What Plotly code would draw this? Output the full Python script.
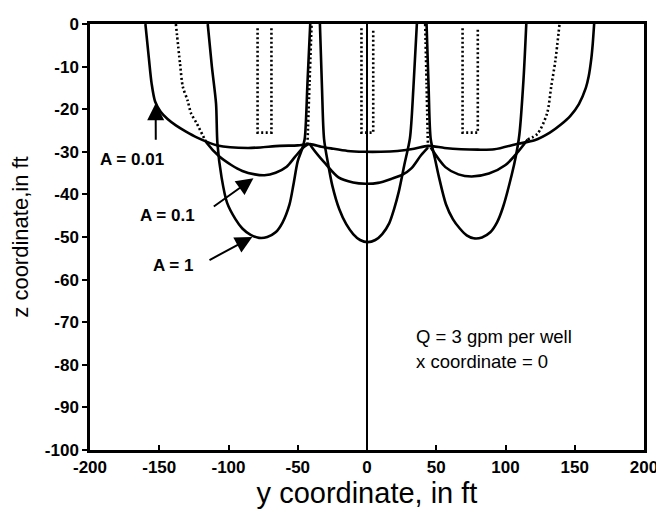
import plotly.graph_objects as go

# ---------------- data ----------------
# A = 0.01 capture-zone envelope (y, z in ft)
a001_y = [-160, -157.5, -155.5, -153, -149, -144, -138, -131, -123, -108, -86, -63, -50, -41, -33, -26, -14, -2, 10, 22, 34, 44, 56, 68, 80, 92, 109, 121, 132, 140, 147, 153, 158, 160, 162, 163, 164]
a001_z = [0, -8, -14, -18.2, -20.6, -22.3, -23.8, -25.2, -26.6, -28.5, -29.1, -28.6, -28.5, -28.2, -28.8, -29.2, -29.8, -30, -30, -29.8, -29.3, -28.6, -29.1, -29.4, -29.5, -29.4, -28.1, -27.3, -25.5, -23.6, -21.5, -18.8, -15, -12.4, -8, -4.6, 0]

# A = 0.1 lobes (solid parts)
a01_left_y = [-117, -115.5, -107, -98, -90, -81, -74, -66, -58, -52, -46, -43]
a01_left_z = [-27.2, -28, -31, -33.1, -34.5, -35.3, -35.5, -34.9, -33.5, -31.2, -29, -28.3]
a01_center_y = [-41, -39.4, -30, -20.6, -10, -1, 8, 18, 26, 32, 39, 44]
a01_center_z = [-28.3, -29.1, -32.8, -36, -37.2, -37.5, -37.3, -36.3, -35.3, -33.9, -30.8, -29]
a01_right_y = [46, 56.6, 66, 75.6, 88, 100, 109, 116]
a01_right_z = [-29, -33.6, -35.3, -35.8, -35.1, -33.1, -30, -27.1]
# A = 0.1 upper parts (dotted)
a01_outer_left_y = [-138, -135, -133, -129.5, -127, -123, -117]
a01_outer_left_z = [0, -9.3, -14.7, -18, -21, -23.3, -27.2]
a01_outer_right_y = [116, 123, 130, 133, 136, 139]
a01_outer_right_z = [-27.1, -25.8, -21, -14.7, -8.6, 0]
a01_divide_left_y = [-43, -41.5, -40]
a01_divide_left_z = [-28.3, -14, 0]
a01_divide_right_y = [44, 43, 42]
a01_divide_right_z = [-29, -14, 0]

# A = 1 lobes
a1_left_y = [-115, -112, -109, -108, -105, -101, -95, -90, -84, -78, -72, -66, -61, -56, -53, -50, -47, -45, -43, -41]
a1_left_z = [0, -10, -18.7, -28, -36, -42, -45.8, -48, -49.5, -50.2, -50, -48.9, -46.6, -42.4, -37.5, -32.2, -29.5, -27, -14, 0]
a1_center_y = [-34, -32.5, -31, -28, -25, -20, -15, -10, -5, 0.5, 6, 11, 16, 19.5, 23, 27, 31, 33.5, 36]
a1_center_z = [0, -15, -27, -33, -38, -43.5, -47, -49.3, -50.7, -51.2, -50.7, -49.3, -46.8, -43.5, -39.3, -33, -26.8, -15, 0]
a1_right_y = [43, 44.5, 46, 49, 52, 57, 62, 67, 72, 77, 83, 89, 94, 98, 104.5, 107.5, 110, 113, 115]
a1_right_z = [0, -15, -27, -31.5, -36, -42.3, -45.8, -48, -49.6, -50.3, -50.1, -48.9, -46.5, -43.2, -35.4, -31, -26, -13, 0]

# well screens (dotted U shapes)
well_left_y = [-79, -79, -69, -69]
well_center_y = [-4, -4, 4.5, 4.5]
well_right_y = [69, 69, 80, 80]
well_z = [-1, -25.5, -25.5, -1]

# ticks
x_tick_vals = [-200, -150, -100, -50, 0, 50, 100, 150, 200]
x_tick_text = ["-200", "-150", "-100", "-50", "0", "50", "100", "150", "200"]
y_tick_vals = [0, -10, -20, -30, -40, -50, -60, -70, -80, -90, -100]
y_tick_text = ["0", "-10", "-20", "-30", "-40", "-50", "-60", "-70", "-80", "-90", "-100"]

# ---------------- figure ----------------
FONT = "Liberation Sans, Arial, sans-serif"
solid = dict(color="black", width=2.6, shape="spline", smoothing=0.8)
dotted = dict(color="black", width=2.6, dash="2px,2.5px", shape="spline", smoothing=0.8)
dotted_lin = dict(color="black", width=2.6, dash="2px,2.5px")

fig = go.Figure()

def add(x, y, line):
    fig.add_trace(go.Scatter(x=x, y=y, mode="lines", line=line, hoverinfo="skip", showlegend=False))

add(a001_y, a001_z, solid)
add(a01_left_y, a01_left_z, solid)
add(a01_center_y, a01_center_z, solid)
add(a01_right_y, a01_right_z, solid)
add(a01_outer_left_y, a01_outer_left_z, dotted)
add(a01_outer_right_y, a01_outer_right_z, dotted)
add(a01_divide_left_y, a01_divide_left_z, dotted)
add(a01_divide_right_y, a01_divide_right_z, dotted)
add(a1_left_y, a1_left_z, solid)
add(a1_center_y, a1_center_z, solid)
add(a1_right_y, a1_right_z, solid)
add(well_left_y, well_z, dotted_lin)
add(well_center_y, well_z, dotted_lin)
add(well_right_y, well_z, dotted_lin)

lab_font = dict(family=FONT, size=17, color="black", weight="bold")
arrow = dict(showarrow=True, arrowhead=2, arrowsize=1.7, arrowwidth=2, arrowcolor="black",
             axref="x", ayref="y")

fig.add_annotation(x=-152.6, y=-18.6, ax=-152.5, ay=-27.5, text="", **arrow)
fig.add_annotation(x=-194, y=-31.8, text="A = 0.01", showarrow=False, xanchor="left", font=lab_font)
fig.add_annotation(x=-82, y=-36.2, ax=-111.7, ay=-43.1, text="", **arrow)
fig.add_annotation(x=-165, y=-45, text="A = 0.1", showarrow=False, xanchor="left", font=lab_font)
fig.add_annotation(x=-82.8, y=-50, ax=-114.8, ay=-55.6, text="", **arrow)
fig.add_annotation(x=-156, y=-56.7, text="A = 1", showarrow=False, xanchor="left", font=lab_font)

note_font = dict(family=FONT, size=18.5, color="black")
fig.add_annotation(x=34, y=-73.3, text="Q = 3 gpm per well", showarrow=False, xanchor="left", font=note_font)
fig.add_annotation(x=34, y=-79.3, text="x coordinate = 0", showarrow=False, xanchor="left", font=note_font)

tick_font = dict(family=FONT, size=17, color="black", weight="bold")
fig.update_xaxes(range=[-200, 200], tickvals=x_tick_vals, ticktext=x_tick_text,
                 ticks="inside", ticklen=5, tickwidth=2, tickcolor="black",
                 showline=True, linewidth=2.5, linecolor="black", mirror=True,
                 showgrid=False, zeroline=True, zerolinecolor="black", zerolinewidth=1.5,
                 tickfont=tick_font, automargin=False,
                 title=dict(text="y coordinate, in ft", font=dict(family=FONT, size=29, color="black"), standoff=0))
fig.update_yaxes(range=[-100, 0], tickvals=y_tick_vals, ticktext=y_tick_text,
                 ticks="outside", ticklen=5, tickwidth=2, tickcolor="black",
                 showline=True, linewidth=2.5, linecolor="black", mirror=True,
                 showgrid=False, zeroline=False,
                 tickfont=tick_font, automargin=False,
                 title=dict(text="z coordinate,in ft", font=dict(family=FONT, size=22, color="black"), standoff=16))
# page body has an 8px default margin, so the plot area is offset accordingly
fig.update_layout(width=664, height=514, margin=dict(l=82, r=28, t=16, b=72, autoexpand=False),
                  paper_bgcolor="white", plot_bgcolor="white", showlegend=False)

fig.write_html("out.html")
